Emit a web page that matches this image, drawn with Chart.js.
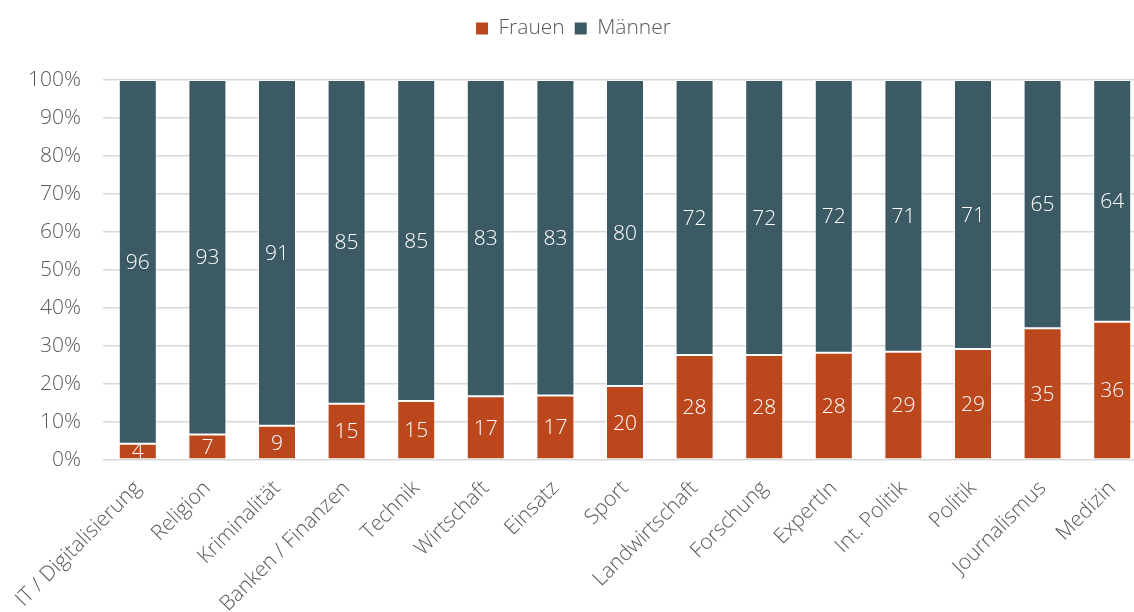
<!DOCTYPE html>
<html>
<head>
<meta charset="utf-8">
<script src="https://cdn.jsdelivr.net/npm/chart.js@4/dist/chart.umd.min.js"></script>
<style>
    body { margin: 0; background: #fff; overflow: hidden; }
    #wrap { width: 1147px; height: 612px; }
</style>
</head>
<body>
<div id="wrap"><canvas id="myChart"></canvas></div>
<script>
var kategorien = ['IT / Digitalisierung', 'Religion', 'Kriminalität', 'Banken / Finanzen', 'Technik', 'Wirtschaft', 'Einsatz', 'Sport', 'Landwirtschaft', 'Forschung', 'ExpertIn', 'Int. Politik', 'Politik', 'Journalismus', 'Medizin'];
// Balkenhöhen (Anteil in %)
var frauen = [4.3, 6.7, 9.0, 14.8, 15.5, 16.8, 17.0, 19.5, 27.6, 27.6, 28.2, 28.5, 29.2, 34.7, 36.4];
var maenner = [95.7, 93.3, 91.0, 85.2, 84.5, 83.2, 83.0, 80.5, 72.4, 72.4, 71.8, 71.5, 70.8, 65.3, 63.6];
// angezeigte Beschriftungen
var frauenLabels = [4, 7, 9, 15, 15, 17, 17, 20, 28, 28, 28, 29, 29, 35, 36];
var maennerLabels = [96, 93, 91, 85, 85, 83, 83, 80, 72, 72, 72, 71, 71, 65, 64];
var yTicks = [0, 10, 20, 30, 40, 50, 60, 70, 80, 90, 100];

var schrift = "'Open Sans', 'DejaVu Sans', sans-serif";

// Werte mittig in die Balken schreiben
var balkenWerte = {
    id: 'balkenWerte',
    beforeInit: function (chart) {
        // etwas Abstand unter der Legende
        var fit = chart.legend.fit;
        chart.legend.fit = function () {
            fit.call(this);
            this.height += 31;
        };
    },
    afterDatasetsDraw: function (chart) {
        var ctx = chart.ctx;
        ctx.save();
        ctx.font = '300 21px ' + schrift;
        ctx.fillStyle = '#ffffff';
        ctx.textAlign = 'center';
        ctx.textBaseline = 'middle';
        chart.data.datasets.forEach(function (ds, i) {
            var meta = chart.getDatasetMeta(i);
            meta.data.forEach(function (bar, j) {
                var mitte = (bar.y + bar.base) / 2;
                ctx.fillText(ds.labelsText[j], bar.x, mitte + 1);
            });
        });
        ctx.restore();
    }
};

var ctx = document.getElementById("myChart");
var myChart = new Chart(ctx, {
    type: 'bar',
    data: {
        labels: kategorien,
        datasets: [{
            label: 'Frauen',
            data: frauen,
            labelsText: frauenLabels,
            backgroundColor: '#bc471d',
            borderColor: 'rgba(255,255,255,0.45)',
            borderWidth: 1,
            borderSkipped: false
        }, {
            label: 'Männer',
            data: maenner,
            labelsText: maennerLabels,
            backgroundColor: '#3b5a63',
            borderColor: 'rgba(255,255,255,0.45)',
            borderWidth: 1,
            borderSkipped: false
        }]
    },
    options: {
        responsive: true,
        maintainAspectRatio: false,
        animation: false,
        layout: { padding: { left: 0, right: 0, top: 8, bottom: 0 } },
        datasets: { bar: { categoryPercentage: 1.0, barPercentage: 0.546 } },
        plugins: {
            tooltip: { enabled: false },
            legend: {
                position: 'top',
                labels: {
                    color: '#595959',
                    font: { family: schrift, size: 21, weight: '300' },
                    boxWidth: 12,
                    boxHeight: 12,
                    padding: 10,
                    generateLabels: function (chart) {
                        return chart.data.datasets.map(function (ds, i) {
                            return {
                                text: ds.label,
                                fillStyle: ds.backgroundColor,
                                strokeStyle: ds.backgroundColor,
                                lineWidth: 0,
                                fontColor: '#595959',
                                datasetIndex: i
                            };
                        });
                    }
                }
            }
        },
        scales: {
            x: {
                stacked: true,
                grid: { display: false, drawTicks: false },
                border: { display: false },
                ticks: {
                    color: '#595959',
                    font: { family: schrift, size: 21, weight: '300' },
                    minRotation: 45,
                    maxRotation: 45,
                    padding: 16,
                    autoSkip: false
                },
                afterFit: function (scale) { scale.height = 152; }
            },
            y: {
                stacked: true,
                min: 0,
                max: 100,
                afterBuildTicks: function (scale) {
                    scale.ticks = yTicks.map(function (v) { return { value: v }; });
                },
                grid: { color: '#d9d9d9', lineWidth: 1.5, drawTicks: false },
                border: { display: false },
                ticks: {
                    color: '#595959',
                    font: { family: schrift, size: 21, weight: '300' },
                    padding: 22,
                    callback: function (v) { return v + '%'; }
                },
                afterFit: function (scale) { scale.width = 103; }
            }
        }
    },
    plugins: [balkenWerte]
});
</script>
</body>
</html>
